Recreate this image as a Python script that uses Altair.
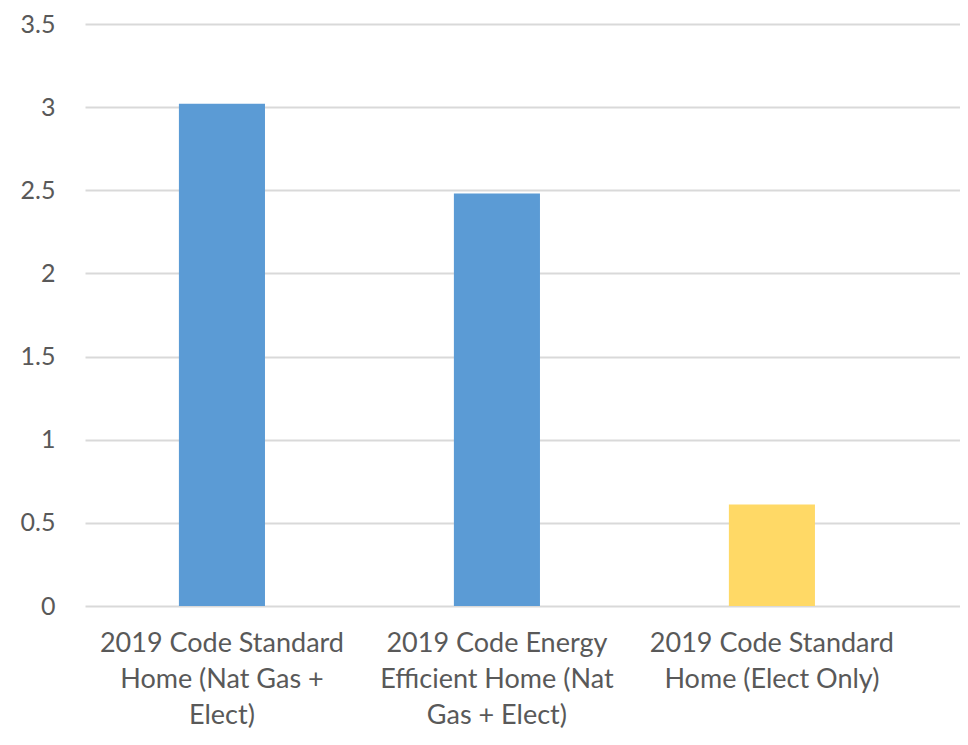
import altair as alt
import pandas as pd

label_lines = [
    ["2019 Code Standard", "Home (Nat Gas +", "Elect)"],
    ["2019 Code Energy", "Efficient Home (Nat", "Gas + Elect)"],
    ["2019 Code Standard", "Home (Elect Only)"],
]
categories = [" ".join(l) for l in label_lines]
values = [3.02, 2.48, 0.61]
colors = ["#5B9BD5", "#5B9BD5", "#FFD966"]
y_ticks = [0, 0.5, 1, 1.5, 2, 2.5, 3, 3.5]

df = pd.DataFrame({"cat": categories, "value": values, "color": colors})

expr = "''"
for name, lines in reversed(list(zip(categories, label_lines))):
    arr = "[" + ",".join("'" + s + "'" for s in lines) + "]"
    expr = f"datum.value == '{name}' ? {arr} : ({expr})"

FONT = "Lato"

chart = alt.Chart(df).mark_bar().encode(
    x=alt.X(
        "cat:N",
        sort=categories,
        title=None,
        scale=alt.Scale(paddingInner=0.687, paddingOuter=0.4345, align=0.393),
        axis=alt.Axis(
            labelAngle=0,
            labelExpr=expr,
            labelFont=FONT,
            labelFontSize=27,
            labelColor="#595959",
            labelLineHeight=36,
            labelPadding=24,
            labelBaseline="top",
            ticks=False,
            domain=False,
            grid=False,
            labelLimit=400,
        ),
    ),
    y=alt.Y(
        "value:Q",
        title=None,
        scale=alt.Scale(domain=[0, 3.5], nice=False),
        axis=alt.Axis(
            values=y_ticks,
            format="~g",
            labelFont=FONT,
            labelFontSize=25,
            labelColor="#595959",
            labelPadding=30,
            ticks=False,
            domain=False,
            gridColor="#D9D9D9",
            gridWidth=2,
            gridOpacity=1,
        ),
    ),
    color=alt.Color("color:N", scale=None, legend=None),
).properties(
    width=875,
    height=582,
    autosize=alt.AutoSizeParams(type="none"),
    padding={"left": 77, "top": 16, "right": 0, "bottom": 131},
).configure_view(stroke=None)

chart.save("out.html", embed_options={"renderer": "svg", "actions": False})
